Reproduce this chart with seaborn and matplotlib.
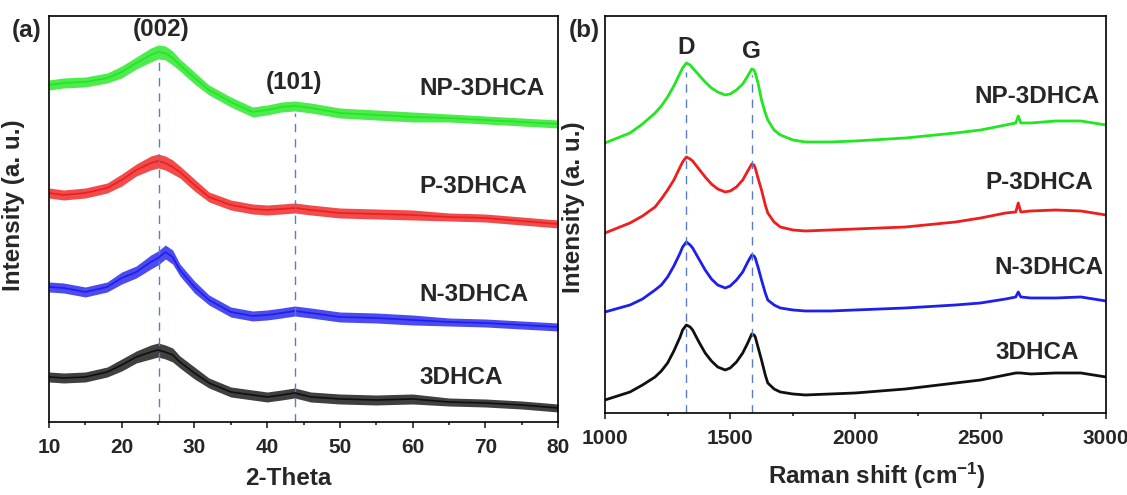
import numpy as np
import pandas as pd
import seaborn as sns
import matplotlib.pyplot as plt
from matplotlib.ticker import MultipleLocator

# ---- XRD (panel a), intensity in arbitrary units ----
two_theta = [10, 12, 15, 18, 20, 22, 24, 25, 26, 27, 28, 30, 32, 35, 38, 40, 42, 43.8, 46, 50, 55, 60, 65, 70, 75, 80]
xrd_np = [337, 339, 340, 344, 350, 359, 367, 370, 369, 364, 357, 344, 332, 320, 310, 312, 315, 316, 314, 309, 307, 305, 304, 302, 300, 298]
xrd_p = [229, 227, 229, 234, 242, 252, 259, 261, 259, 255, 250, 237, 225, 217, 213, 212, 213, 214, 212, 209, 208, 207, 205, 204, 201, 198]
xrd_n = [135, 134, 130, 135, 144, 150, 160, 164, 170, 165, 152, 135, 122, 110, 106, 107, 109, 111, 109, 105, 104, 102, 100, 99, 97, 95]
xrd_3d = [45, 44, 45, 50, 57, 65, 70, 72, 70, 67, 60, 49, 39, 30, 27, 25, 27, 29, 25, 23, 22, 23, 20, 19, 17, 14]
# half-width of the noisy band seen in the patterns
xrd_spread = [5, 5, 5, 5, 6, 6, 7, 7, 7, 7, 6, 6, 5, 5, 5, 5, 5, 5, 5, 5, 5, 5, 4, 4, 4, 4]

# ---- Raman (panel b) ----
raman_shift = [1000, 1100, 1150, 1200, 1225, 1250, 1275, 1300, 1310, 1325, 1340, 1350, 1375, 1400, 1425, 1450,
               1480, 1500, 1525, 1550, 1570, 1586, 1595, 1600, 1612, 1625, 1640, 1650, 1675, 1700, 1750, 1800,
               1900, 2000, 2200, 2400, 2500, 2600, 2640, 2650, 2660, 2700, 2800, 2900, 3000]
raman_np = [270, 280, 289, 300, 307, 316, 327, 340, 345, 350, 348, 345, 338, 331, 325, 321, 318, 319, 323, 329,
            337, 344, 343, 340, 329, 313, 300, 293, 283, 278, 273, 271, 271, 272, 275, 280, 283, 288, 290, 297,
            290, 290, 292, 292, 288]
raman_p = [180, 190, 197, 206, 214, 223, 233, 246, 251, 256, 254, 252, 244, 236, 229, 224, 221, 222, 226, 233,
           242, 249, 248, 245, 234, 223, 208, 200, 191, 186, 183, 182, 183, 184, 186, 191, 195, 200, 201, 210,
           201, 202, 203, 202, 198]
raman_n = [101, 108, 114, 123, 128, 136, 147, 160, 166, 171, 168, 165, 154, 143, 134, 128, 125, 127, 133, 141,
           151, 158, 157, 155, 145, 133, 120, 113, 108, 105, 103, 102, 102, 103, 105, 108, 110, 114, 116, 121,
           116, 115, 115, 116, 112]
raman_3d = [13, 21, 28, 36, 42, 50, 62, 76, 83, 88, 86, 83, 71, 60, 52, 46, 43, 45, 51, 60,
            70, 79, 78, 76, 65, 53, 38, 30, 24, 21, 19, 18, 19, 20, 24, 30, 33, 38, 40, 40,
            40, 39, 40, 40, 36]

samples = ['NP-3DHCA', 'P-3DHCA', 'N-3DHCA', '3DHCA']
colors = ['#22E622', '#EE1E1E', '#1E1EEE', '#101010']
peak_xrd = [25.1, 43.8]
peak_raman = [1325, 1586]

sns.set_style("ticks")
plt.rcParams['font.family'] = ['Liberation Sans', 'DejaVu Sans']
plt.rcParams['font.weight'] = 'bold'
plt.rcParams['mathtext.fontset'] = 'custom'
plt.rcParams['mathtext.rm'] = 'Liberation Sans:bold'
plt.rcParams['mathtext.bf'] = 'Liberation Sans:bold'
plt.rcParams['mathtext.default'] = 'bf'

xrd = pd.concat([pd.DataFrame({'x': two_theta, 'y': v, 'Sample': s})
                 for s, v in zip(samples, [xrd_np, xrd_p, xrd_n, xrd_3d])])
ram = pd.concat([pd.DataFrame({'x': raman_shift, 'y': v, 'Sample': s})
                 for s, v in zip(samples, [raman_np, raman_p, raman_n, raman_3d])])
pal = dict(zip(samples, colors))

fs_lab = 17.5
fs_tick = 15

fig = plt.figure(figsize=(11.27, 4.95), dpi=100)
ax1 = fig.add_axes([0.0435, 0.1475, 0.4516, 0.8202])
ax2 = fig.add_axes([0.5368, 0.1657, 0.4445, 0.802])

# panel a
for s, v in zip(samples, [xrd_np, xrd_p, xrd_n, xrd_3d]):
    lo = [a - b for a, b in zip(v, xrd_spread)]
    hi = [a + b for a, b in zip(v, xrd_spread)]
    ax1.fill_between(two_theta, lo, hi, color=pal[s], alpha=0.8, linewidth=0)
sns.lineplot(data=xrd, x='x', y='y', hue='Sample', palette=pal, legend=False,
             sort=False, linewidth=1.2, ax=ax1)
ax1.vlines(peak_xrd[0], 0, 360, colors='#5a7cc8', linestyles=(0, (6, 5)), linewidth=1)
ax1.vlines(peak_xrd[1], 0, 309, colors='#5a7cc8', linestyles=(0, (6, 5)), linewidth=1)
ax1.set_xlim(10, 80)
ax1.set_ylim(0, 406)
ax1.xaxis.set_major_locator(MultipleLocator(10))
ax1.xaxis.set_minor_locator(MultipleLocator(5))
ax1.set_xlabel('2-Theta', fontsize=fs_lab, fontweight='bold')
ax1.xaxis.set_label_coords(0.47, -0.11)
ax1.set_ylabel('Intensity (a. u.)', fontsize=fs_lab, fontweight='bold')
ax1.yaxis.set_label_coords(-0.047, 0.534)
ax1.text(25.4, 392, '(002)', fontsize=fs_lab, fontweight='bold', ha='center', va='center')
ax1.text(43.7, 339, '(101)', fontsize=fs_lab, fontweight='bold', ha='center', va='center')
for s, yy in zip(samples, [333, 235, 127, 44]):
    ax1.text(61.0, yy, s, fontsize=fs_lab, fontweight='bold', ha='left', va='center')

# panel b
sns.lineplot(data=ram, x='x', y='y', hue='Sample', palette=pal, legend=False,
             sort=False, linewidth=2.0, ax=ax2)
ax2.vlines(peak_raman[0], 0, 341, colors='#5a7cc8', linestyles=(0, (6, 5)), linewidth=1)
ax2.vlines(peak_raman[1], 0, 338, colors='#5a7cc8', linestyles=(0, (6, 5)), linewidth=1)
ax2.set_xlim(1000, 3000)
ax2.set_ylim(0, 397)
ax2.xaxis.set_major_locator(MultipleLocator(500))
ax2.xaxis.set_minor_locator(MultipleLocator(250))
ax2.set_xlabel('Raman shift (cm$^{-1}$)', fontsize=fs_lab, fontweight='bold')
ax2.xaxis.set_label_coords(0.543, -0.12)
ax2.set_ylabel('Intensity (a. u.)', fontsize=fs_lab, fontweight='bold')
ax2.yaxis.set_label_coords(-0.04, 0.519)
ax2.text(1325, 365, 'D', fontsize=fs_lab, fontweight='bold', ha='center', va='center')
ax2.text(1586, 361, 'G', fontsize=fs_lab, fontweight='bold', ha='center', va='center')
for s, xx, yy in zip(samples, [2473, 2520, 2556, 2560], [316, 230, 145, 60]):
    ax2.text(xx, yy, s, fontsize=fs_lab, fontweight='bold', ha='left', va='center')

for ax in (ax1, ax2):
    ax.set_yticks([])
    for sp in ax.spines.values():
        sp.set_visible(True)
        sp.set_linewidth(1.2)
        sp.set_color('black')
    ax.tick_params(axis='x', which='major', length=4.5, width=1.2, pad=7, labelsize=fs_tick, direction='out')
    ax.tick_params(axis='x', which='minor', length=2.5, width=1.2, direction='out')
    for lab in ax.get_xticklabels():
        lab.set_fontweight('bold')

fig.text(27 / 1127, 1 - 30 / 495, '(a)', fontsize=fs_lab, fontweight='bold', ha='center', va='center')
fig.text(584 / 1127, 1 - 30 / 495, '(b)', fontsize=fs_lab, fontweight='bold', ha='center', va='center')

fig.savefig('out.png', dpi=100)
